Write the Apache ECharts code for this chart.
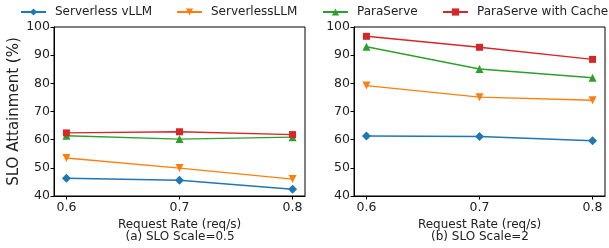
<!DOCTYPE html>
<html><head><meta charset="utf-8">
<script src="https://cdn.jsdelivr.net/npm/echarts@6/dist/echarts.min.js"></script>
<style>html,body{margin:0;padding:0;background:#fff}#c{width:609px;height:248px}</style>
</head><body><div id="c"></div>
<script>
const rates = [0.6, 0.7, 0.8];
const seriesNames = ['Serverless vLLM', 'ServerlessLLM', 'ParaServe', 'ParaServe with Cache'];
// (a) SLO Scale=0.5
const vllmA = [46.3, 45.6, 42.4];
const sllmA = [53.5, 49.9, 46.0];
const paraA = [61.4, 60.2, 60.9];
const cacheA = [62.4, 62.8, 61.8];
// (b) SLO Scale=2
const vllmB = [61.3, 61.1, 59.6];
const sllmB = [79.2, 75.1, 74.0];
const paraB = [93.0, 85.1, 82.0];
const cacheB = [96.7, 92.8, 88.5];
const yTicks = [40, 50, 60, 70, 80, 90, 100];
const subTitles = ['(a) SLO Scale=0.5', '(b) SLO Scale=2'];
const xName = 'Request Rate (req/s)';
const yName = 'SLO Attainment (%)';

const colors = ['#1f77b4', '#ff7f0e', '#2ca02c', '#d62728'];
const symbols = ['diamond', 'triangle', 'triangle', 'rect'];
const rot = [0, 180, 0, 0];
const sizes = [9, 8, 8, 7];
const legendLeft = [20, 176, 322, 442];
const F = 'DejaVu Sans';

const chart = echarts.init(document.getElementById('c'), null, {renderer: 'canvas'});
const grids = [
  {left: 54, top: 27, width: 251, height: 169, show: true, borderColor: '#000', borderWidth: 1, backgroundColor: 'transparent'},
  {left: 354, top: 27, width: 251, height: 169, show: true, borderColor: '#000', borderWidth: 1, backgroundColor: 'transparent'}
];
const xAxes = [0, 1].map(i => ({
  type: 'value', gridIndex: i, min: 0.589, max: 0.811,
  name: xName, nameLocation: 'middle', nameGap: 15,
  nameTextStyle: {fontFamily: F, fontSize: 12, color: '#222'},
  axisLine: {show: true, lineStyle: {color: '#000'}},
  axisTick: {show: true, length: 3.5, lineStyle: {color: '#000'}, customValues: rates},
  axisLabel: {fontFamily: F, fontSize: 12.5, color: '#222', margin: 5, customValues: rates, formatter: v => v.toFixed(1)},
  splitLine: {show: false}
}));
const yAxes = [0, 1].map(i => ({
  type: 'value', gridIndex: i, min: yTicks[0], max: yTicks[yTicks.length - 1], interval: 10,
  name: i === 0 ? yName : '', nameLocation: 'middle', nameGap: 32,
  nameTextStyle: {fontFamily: F, fontSize: 15, color: '#222'},
  axisLine: {show: true, lineStyle: {color: '#000'}},
  axisTick: {show: true, length: 3.5, lineStyle: {color: '#000'}},
  axisLabel: {fontFamily: F, fontSize: 12.5, color: '#222', margin: 4},
  splitLine: {show: false}
}));
const dataA = [vllmA, sllmA, paraA, cacheA];
const dataB = [vllmB, sllmB, paraB, cacheB];
const series = [];
[dataA, dataB].forEach((set, gi) => {
  set.forEach((vals, si) => {
    series.push({
      name: seriesNames[si], type: 'line', xAxisIndex: gi, yAxisIndex: gi,
      data: rates.map((r, k) => [r, vals[k]]),
      symbol: symbols[si], symbolSize: sizes[si], symbolRotate: rot[si], showAllSymbol: true,
      lineStyle: {color: colors[si], width: 1.4},
      itemStyle: {color: colors[si]},
      animation: false
    });
  });
});
const legends = seriesNames.map((n, i) => ({
  data: [n], left: legendLeft[i], top: 6, padding: 0,
  itemWidth: 25, itemHeight: 9, symbolRotate: 'inherit',
  textStyle: {fontFamily: F, fontSize: 12, color: '#222', padding: [0, 0, 0, 4]}
}));
chart.setOption({
  animation: false,
  textStyle: {fontFamily: F},
  legend: legends,
  title: [
    {text: subTitles[0], left: 180, textAlign: 'center', top: 231, padding: 0, textStyle: {fontFamily: F, fontSize: 12, fontWeight: 'normal', color: '#222'}},
    {text: subTitles[1], left: 480, textAlign: 'center', top: 231, padding: 0, textStyle: {fontFamily: F, fontSize: 12, fontWeight: 'normal', color: '#222'}}
  ],
  grid: grids, xAxis: xAxes, yAxis: yAxes, series: series
});
</script></body></html>
